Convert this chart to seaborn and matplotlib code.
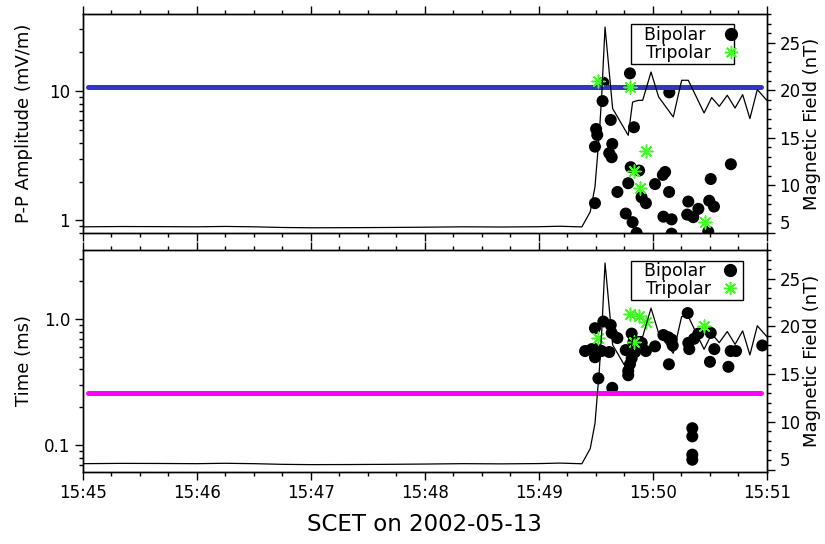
import pandas as pd
import matplotlib
matplotlib.use("Agg")
import matplotlib.pyplot as plt
import matplotlib.dates as mdates
from matplotlib.lines import Line2D
from matplotlib.ticker import LogLocator, NullFormatter, MultipleLocator
import seaborn as sns

# start of the interval, all times below are seconds after this
t0 = pd.Timestamp("2002-05-13 15:45:00")

# magnetic field magnitude (nT)
bfield_sec = [0, 20, 40, 60, 75, 90, 105, 120, 140, 160, 180, 200, 220, 240, 251,
              262.6, 267, 269.5, 271.8, 273, 274.8, 278.8, 287, 289.3, 292.3, 294.6,
              299, 303, 310.7, 315.1, 318.6, 326.9, 330.9, 334.9, 339.1, 343.2,
              347.2, 351, 354.9, 359.9]
bfield_nt = [5.62, 5.65, 5.64, 5.62, 5.66, 5.62, 5.55, 5.52, 5.53, 5.55, 5.58, 5.62, 5.60, 5.63, 5.68,
             5.61, 7.19, 9.82, 15.46, 19.28, 26.64, 18.06, 15.25, 18.75, 18.93, 18.93,
             21.91, 19.28, 17.18, 21.04, 21.04, 17.60, 19.22, 18.30, 19.46, 18.12,
             19.53, 17.01, 20.06, 18.93]

# peak-to-peak amplitude (mV/m)
amp_bi_sec = [273.9, 287.9, 273.5, 308.6, 277.8, 270.1, 270.7, 290.0, 269.5, 278.6,
              277.0, 278.3, 288.3, 292.7, 305.2, 306.4, 341.0, 330.4, 287.0, 301.1,
              281.3, 308.5, 294.0, 296.3, 269.5, 318.6, 329.6, 332.1, 323.9, 285.7,
              318.0, 321.2, 305.5, 309.8, 289.3, 291.4, 309.8, 329.1]
amp_bi = [11.6, 13.7, 8.37, 9.77, 5.98, 5.09, 4.58, 5.25, 3.72, 3.90,
          3.31, 3.08, 2.58, 2.43, 2.25, 2.37, 2.72, 2.09, 1.94, 1.91,
          1.66, 1.66, 1.51, 1.36, 1.36, 1.40, 1.42, 1.28, 1.23, 1.13,
          1.11, 1.06, 1.07, 1.02, 0.97, 0.80, 0.79, 0.82]
amp_tri_sec = [270.9, 287.9, 296.3, 290.0, 293.2, 327.4]
amp_tri = [11.9, 10.8, 3.47, 2.39, 1.78, 0.965]

# duration (ms)
dur_bi_sec = [269.5, 273.9, 277.8, 278.3, 281.3, 288.8, 318.3, 264.3, 267.8, 269.5,
              271.3, 273.0, 277.0, 269.5, 271.3, 278.6, 285.7, 289.7, 294.1, 290.6,
              288.8, 287.9, 287.0, 287.0, 296.3, 301.1, 305.5, 308.1, 309.9, 310.4,
              308.4, 318.6, 319.1, 321.6, 323.9, 330.4, 332.3, 330.0, 339.7, 340.9,
              343.7, 357.5, 320.7, 320.7, 320.7, 320.7]
dur_bi = [0.85, 0.96, 0.90, 0.78, 0.71, 0.77, 1.12, 0.56, 0.58, 0.58,
          0.57, 0.56, 0.55, 0.50, 0.34, 0.286, 0.57, 0.66, 0.65, 0.55,
          0.49, 0.44, 0.39, 0.36, 0.56, 0.61, 0.75, 0.72, 0.69, 0.62,
          0.44, 0.65, 0.58, 0.70, 0.77, 0.78, 0.58, 0.46, 0.42, 0.56,
          0.56, 0.62, 0.137, 0.118, 0.0845, 0.077]
dur_tri_sec = [270.9, 287.9, 292.8, 296.3, 290.0, 327.0]
dur_tri = [0.71, 1.11, 1.06, 0.96, 0.66, 0.88]

# reference levels
level_sec = [3, 357]
amp_level = 10.7
dur_level = 0.26


def to_time(sec):
    return t0 + pd.to_timedelta(pd.Series(sec, dtype=float), unit="s")


sns.set_style("ticks")
plt.rcParams["font.family"] = ["DejaVu Sans"]
plt.rcParams.update({
    "axes.linewidth": 1.0, "axes.edgecolor": "black", "axes.labelcolor": "black",
    "xtick.color": "black", "ytick.color": "black", "text.color": "black",
})

GREEN = "#3cff1e"
STAR = (8, 2, 0)
fig = plt.figure(figsize=(8.25, 5.44), dpi=100)
left, width = 0.1002, 0.8295
ax_amp = fig.add_axes([left, 0.5717, width, 0.4023])
ax_dur = fig.add_axes([left, 0.1324, width, 0.408])

panels = [
    dict(ax=ax_amp, bs=amp_bi_sec, bv=amp_bi, ts=amp_tri_sec, tv=amp_tri,
         lvl=amp_level, lcol="#3535c5", ylim=(0.80, 39.3), yt=[1, 10],
         ylabs=["1", "10"], ylab="P-P Amplitude (mV/m)", blim=(4.97, 28.0),
         lpos=(0.9518, 0.954), hl=0.2, htp=1.05),
    dict(ax=ax_dur, bs=dur_bi_sec, bv=dur_bi, ts=dur_tri_sec, tv=dur_tri,
         lvl=dur_level, lcol="#ff00ff", ylim=(0.0616, 3.54), yt=[0.1, 1.0],
         ylabs=["0.1", "1.0"], ylab="Time (ms)", blim=(4.75, 28.0),
         lpos=(0.965, 0.952), hl=1.34, htp=0.43),
]

for p in panels:
    ax = p["ax"]
    ax.set_yscale("log")
    sns.scatterplot(x=to_time(p["bs"]), y=p["bv"], ax=ax, color="black", s=75,
                    edgecolor="none", zorder=2, legend=False)
    sns.lineplot(x=to_time(level_sec), y=[p["lvl"], p["lvl"]], ax=ax,
                 color=p["lcol"], linewidth=3.6, zorder=3)
    sns.scatterplot(x=to_time(p["ts"]), y=p["tv"], ax=ax, color=GREEN,
                    marker=STAR, s=85, linewidth=1.1, zorder=4, legend=False)
    ax.set_ylim(*p["ylim"])
    ax.set_yticks(p["yt"], labels=p["ylabs"])
    ax.yaxis.set_minor_locator(LogLocator(base=10, subs=range(2, 10)))
    ax.yaxis.set_minor_formatter(NullFormatter())
    ax.set_ylabel(p["ylab"], fontsize=13)
    ax.yaxis.set_label_coords(-0.0726, 0.5)

    ax.set_xlim(t0, t0 + pd.Timedelta(minutes=6))
    ax.xaxis.set_major_locator(mdates.MinuteLocator())
    ax.xaxis.set_minor_locator(mdates.SecondLocator(bysecond=[15, 30, 45]))
    ax.xaxis.set_major_formatter(mdates.DateFormatter("%H:%M"))
    ax.tick_params(axis="x", which="both", top=True, bottom=True, direction="out")
    ax.tick_params(which="major", length=5.5, width=1.0, labelsize=12)
    ax.tick_params(which="minor", length=2.8, width=1.0)
    ax.set_xlabel("")

    axb = ax.twinx()
    sns.lineplot(x=to_time(bfield_sec), y=bfield_nt, ax=axb, color="black",
                 linewidth=0.9)
    axb.set_ylim(*p["blim"])
    axb.set_yticks([5, 10, 15, 20, 25], labels=["5", "10", "15", "20", "25"])
    first = axb.yaxis.get_major_ticks()[0]
    first.label1.set_verticalalignment("bottom")
    first.label2.set_verticalalignment("bottom")
    axb.yaxis.set_minor_locator(MultipleLocator(1))
    axb.tick_params(which="major", length=5.5, width=1.0, labelsize=12)
    axb.tick_params(which="minor", length=2.8, width=1.0)
    axb.set_ylabel("Magnetic Field (nT)", fontsize=13)
    axb.yaxis.set_label_coords(1.0526, 0.5)
    axb.set_xlabel("")

    handles = [
        Line2D([], [], linestyle="none", marker="o", color="black", markersize=8.5),
        Line2D([], [], linestyle="none", marker=STAR, color=GREEN,
               markersize=9.5, markeredgewidth=1.1),
    ]
    # markers sit right of the labels; the spaces keep both labels left-aligned
    leg = axb.legend(handles, ["  Bipolar ", "  Tripolar"], loc="upper right",
                     bbox_to_anchor=p["lpos"], markerfirst=False, fontsize=12.5,
                     frameon=True, fancybox=False, framealpha=1,
                     edgecolor="black", borderpad=0.1,
                     handlelength=p["hl"], handletextpad=p["htp"],
                     labelspacing=0.0, borderaxespad=0)
    leg.get_frame().set_linewidth(1.0)

ax_amp.tick_params(labelbottom=False)
ax_dur.set_xlabel("SCET on 2002-05-13", fontsize=16.5)
ax_dur.xaxis.set_label_coords(0.5, -0.185)

fig.savefig("out.png", dpi=100)
